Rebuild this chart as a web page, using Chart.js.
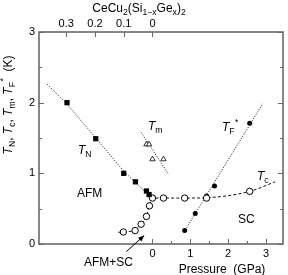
<!DOCTYPE html>
<html><head><meta charset="utf-8">
<script src="https://cdn.jsdelivr.net/npm/chart.js@4.4.0/dist/chart.umd.min.js"></script>
<style>html,body{margin:0;padding:0;background:#fff;}#wrap{width:288px;height:275px;}</style>
</head><body><div id="wrap"><canvas id="c" width="288" height="275"></canvas></div>
<script>
// ---- data ----
const X_TICKS = [0, 1, 2, 3];
const X_MINOR = [0.5, 1.5, 2.5];
const Y_TICKS = [0, 1, 2, 3];
const Y_MINOR = [0.5, 1.5, 2.5];
const COMP_TICKS = [0.3, 0.2, 0.1, 0];
const GPA_PER_X = 7.6;

const tnP = [-2.26, -1.50, -0.76, -0.45, -0.16, -0.09];
const tnT = [2.00, 1.49, 1.00, 0.88, 0.75, 0.70];
const tnLineP = [-2.78, -2.26, -1.50, -0.76, -0.45, -0.09];
const tnLineT = [2.26, 1.98, 1.50, 1.03, 0.87, 0.69];

const tmP = [-0.16, -0.09, 0.00, 0.29];
const tmT = [1.41, 1.41, 1.20, 1.20];
const tmLineP = [-0.30, 0.42];
const tmLineT = [1.58, 0.99];

const tcP = [-0.77, -0.46, -0.30, -0.16, -0.08, 0.00, 0.29, 0.85, 1.43, 2.57];
const tcT = [0.17, 0.19, 0.28, 0.39, 0.54, 0.65, 0.65, 0.65, 0.65, 0.745];
const tcLineP = [-0.90, -0.77, -0.46, -0.30, -0.16, -0.08, 0.00, 0.29, 0.85, 1.43, 2.57, 3.24];
const tcLineT = [0.165, 0.17, 0.20, 0.28, 0.39, 0.54, 0.65, 0.65, 0.65, 0.655, 0.745, 0.88];

const tfP = [0.85, 1.13, 1.43, 1.64, 2.57];
const tfT = [0.19, 0.43, 0.68, 0.82, 1.71];
const tfLineP = [0.83, 2.92];
const tfLineT = [0.17, 1.99];

const X_MIN = -3, X_MAX = 3.45, Y_MIN = 0, Y_MAX = 3;

// ---- helpers ----
const FONT = '"Liberation Sans", Arial, Helvetica, sans-serif';
const pts = (xs, ys) => xs.map((x, i) => ({x: x, y: ys[i]}));

function drawRich(ctx, x, y, segs, size, align) {
  let w = 0;
  const parts = segs.map(s => {
    const fs = (s.sub || s.sup) ? size * 0.72 : size;
    const font = (s.it ? 'italic ' : '') + fs + 'px ' + FONT;
    ctx.font = font;
    const pw = ctx.measureText(s.t).width;
    const dy = s.sub ? size * 0.28 : (s.sup ? -size * 0.5 : 0);
    const p = {font: font, pw: pw, dy: dy, t: s.t, dx: s.dx || 0};
    w += pw + p.dx;
    return p;
  });
  let cx = align === 'center' ? x - w / 2 : x;
  ctx.textAlign = 'left';
  ctx.textBaseline = 'alphabetic';
  for (const p of parts) {
    cx += p.dx;
    ctx.font = p.font;
    ctx.fillText(p.t, cx, y + p.dy);
    cx += p.pw;
  }
}

const AXIS_COLOR = '#6a6a6a';

const decor = {
  id: 'decor',
  afterDraw(chart) {
    const ctx = chart.ctx;
    const a = chart.chartArea;
    const sx = chart.scales.x, sy = chart.scales.y, s2 = chart.scales.x2;
    ctx.save();
    // ticks
    ctx.strokeStyle = AXIS_COLOR;
    ctx.lineWidth = 1;
    ctx.beginPath();
    Y_TICKS.forEach(v => {
      const py = Math.round(sy.getPixelForValue(v)) + 0.5;
      ctx.moveTo(a.left, py); ctx.lineTo(a.left + 5, py);
      ctx.moveTo(a.right, py); ctx.lineTo(a.right - 5, py);
    });
    Y_MINOR.forEach(v => {
      const py = Math.round(sy.getPixelForValue(v)) + 0.5;
      ctx.moveTo(a.left, py); ctx.lineTo(a.left + 3, py);
      ctx.moveTo(a.right, py); ctx.lineTo(a.right - 3, py);
    });
    X_TICKS.forEach(v => {
      const px = Math.round(sx.getPixelForValue(v)) + 0.5;
      ctx.moveTo(px, a.bottom); ctx.lineTo(px, a.bottom - 5);
    });
    X_MINOR.forEach(v => {
      const px = Math.round(sx.getPixelForValue(v)) + 0.5;
      ctx.moveTo(px, a.bottom); ctx.lineTo(px, a.bottom - 3);
    });
    COMP_TICKS.forEach(v => {
      const px = Math.round(s2.getPixelForValue(v)) + 0.5;
      ctx.moveTo(px, a.top); ctx.lineTo(px, a.top + 5);
    });
    ctx.stroke();
    // frame
    ctx.lineWidth = 1.6;
    ctx.strokeRect(a.left, a.top, a.right - a.left, a.bottom - a.top);

    ctx.fillStyle = '#000';
    // labels inside plot
    drawRich(ctx, 78, 154, [{t: 'T', it: true}, {t: 'N', sub: true}], 12);
    drawRich(ctx, 148, 130, [{t: 'T', it: true}, {t: 'm', sub: true}], 12);
    drawRich(ctx, 222, 131, [{t: 'T', it: true}, {t: 'F', sub: true}, {t: '*', sup: true, dx: 0.5}], 12);
    drawRich(ctx, 257, 180, [{t: 'T', it: true}, {t: 'c', sub: true}], 12);
    drawRich(ctx, 77, 197, [{t: 'AFM'}], 12);
    drawRich(ctx, 238, 223, [{t: 'SC'}], 12);
    drawRich(ctx, 84, 265.5, [{t: 'AFM+SC'}], 12);
    drawRich(ctx, 222, 272.5, [{t: 'Pressure  (GPa)'}], 12, 'center');
    drawRich(ctx, 139, 11.5, [{t: 'CeCu'}, {t: '2', sub: true}, {t: '(Si'}, {t: '1\u2212x', sub: true},
      {t: 'Ge'}, {t: 'x', sub: true}, {t: ')'}, {t: '2', sub: true}], 12, 'center');

    // arrow AFM+SC
    const tx = sx.getPixelForValue(-0.69), ty = sy.getPixelForValue(-0.107);
    const hx = sx.getPixelForValue(-0.22), hy = sy.getPixelForValue(0.12);
    ctx.strokeStyle = '#000';
    ctx.lineWidth = 1;
    ctx.beginPath(); ctx.moveTo(tx, ty); ctx.lineTo(hx, hy); ctx.stroke();
    const ang = Math.atan2(hy - ty, hx - tx);
    ctx.beginPath();
    ctx.moveTo(hx, hy);
    ctx.lineTo(hx - 6 * Math.cos(ang) + 2.5 * Math.sin(ang), hy - 6 * Math.sin(ang) - 2.5 * Math.cos(ang));
    ctx.lineTo(hx - 6 * Math.cos(ang) - 2.5 * Math.sin(ang), hy - 6 * Math.sin(ang) + 2.5 * Math.cos(ang));
    ctx.closePath(); ctx.fill();

    // y title (rotated)
    ctx.translate(12, 105);
    ctx.rotate(-Math.PI / 2);
    drawRich(ctx, 0, 0, [
      {t: 'T', it: true}, {t: 'N', sub: true}, {t: ', '},
      {t: 'T', it: true}, {t: 'c', sub: true}, {t: ', '},
      {t: 'T', it: true}, {t: 'm', sub: true}, {t: ', '},
      {t: 'T', it: true}, {t: 'F', sub: true}, {t: '*', sup: true, dx: 0.5}, {t: '  (K)'}
    ], 12, 'center');
    ctx.restore();
  }
};

const tickFont = {family: FONT, size: 11};

new Chart(document.getElementById('c'), {
  type: 'scatter',
  data: {
    datasets: [
      {data: pts(tnP, tnT), pointStyle: 'rect', pointRadius: 3.7, backgroundColor: '#000', borderColor: '#000', borderWidth: 0},
      {data: pts(tmP, tmT), pointStyle: 'triangle', pointRadius: 3.1, backgroundColor: '#fff', borderColor: '#000', borderWidth: 0.8},
      {data: pts(tcP, tcT), pointStyle: 'circle', pointRadius: 3.2, backgroundColor: '#fff', borderColor: '#000', borderWidth: 1},
      {data: pts(tfP, tfT), pointStyle: 'circle', pointRadius: 2.5, backgroundColor: '#000', borderColor: '#000', borderWidth: 0},
      {data: pts(tnLineP, tnLineT), showLine: true, pointRadius: 0, borderColor: '#111', borderWidth: 1, borderDash: [1, 1.6]},
      {data: pts(tmLineP, tmLineT), showLine: true, pointRadius: 0, borderColor: '#111', borderWidth: 1, borderDash: [1, 1.6]},
      {data: pts(tfLineP, tfLineT), showLine: true, pointRadius: 0, borderColor: '#111', borderWidth: 1, borderDash: [1, 1.6]},
      {data: pts(tcLineP, tcLineT), showLine: true, pointRadius: 0, borderColor: '#111', borderWidth: 1, borderDash: [3, 2.2], cubicInterpolationMode: 'monotone'}
    ]
  },
  options: {
    responsive: false,
    animation: false,
    layout: {padding: {left: 0, right: 2, top: 0, bottom: 0}},
    plugins: {legend: {display: false}, tooltip: {enabled: false}},
    scales: {
      x: {
        type: 'linear', position: 'bottom', min: X_MIN, max: X_MAX,
        afterBuildTicks: s => { s.ticks = X_TICKS.map(v => ({value: v})); },
        afterFit: s => { s.height = 31; },
        grid: {display: false, drawTicks: false}, border: {display: false},
        ticks: {font: tickFont, color: '#000', padding: 3, autoSkip: false, maxRotation: 0, callback: v => String(v)}
      },
      x2: {
        type: 'linear', position: 'top', reverse: true,
        min: -X_MAX / GPA_PER_X, max: -X_MIN / GPA_PER_X,
        afterBuildTicks: s => { s.ticks = COMP_TICKS.map(v => ({value: v})); },
        afterFit: s => { s.height = 32; },
        grid: {display: false, drawTicks: false}, border: {display: false},
        ticks: {font: tickFont, color: '#000', padding: 1, autoSkip: false, maxRotation: 0,
          callback: v => (v === 0 ? '0' : v.toFixed(1))}
      },
      y: {
        type: 'linear', position: 'left', min: Y_MIN, max: Y_MAX,
        afterBuildTicks: s => { s.ticks = Y_TICKS.map(v => ({value: v})); },
        afterFit: s => { s.width = 39; },
        grid: {display: false, drawTicks: false}, border: {display: false},
        ticks: {font: tickFont, color: '#000', padding: 4, autoSkip: false, callback: v => String(v)}
      }
    }
  },
  plugins: [decor]
});
</script>
</body></html>
